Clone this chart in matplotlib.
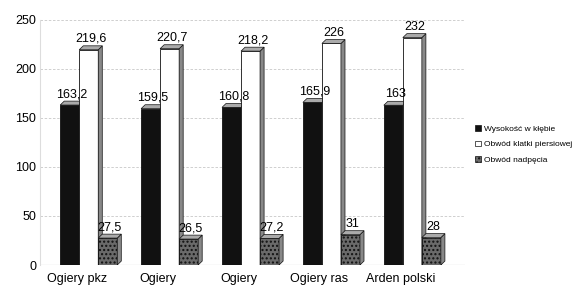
import matplotlib
matplotlib.use('Agg')
import matplotlib.pyplot as plt
from matplotlib.patches import Polygon, Patch
import numpy as np

plt.rcParams['font.family'] = ['Liberation Sans', 'DejaVu Sans']

categories = ['Ogiery pkz', 'Ogiery', 'Ogiery', 'Ogiery ras', 'Arden polski']
series_names = ['Wysokość w kłębie', 'Obwód klatki piersiowej', 'Obwód nadpęcia']
wysokosc = [163.2, 159.5, 160.8, 165.9, 163]
klatka = [219.6, 220.7, 218.2, 226, 232]
nadpecie = [27.5, 26.5, 27.2, 31, 28]

faces = ['#111111', '#ffffff', '#6a6a6a']
hatches = [None, None, '....']

fig = plt.figure(figsize=(5.74, 2.89), dpi=100)
ax = fig.add_axes([0.07, 0.083, 0.74, 0.848])

x = np.arange(len(categories))
w = 0.235
dx, dy = 0.05, 4.0

for i, vals in enumerate([wysokosc, klatka, nadpecie]):
    xs = x + (i - 1) * w
    ax.bar(xs, vals, width=w, color=faces[i], edgecolor='#111111', linewidth=0.6,
           hatch=hatches[i], zorder=3)
    for xc, v in zip(xs, vals):
        x0, x1 = xc - w / 2, xc + w / 2
        side = Polygon([(x1, 0), (x1 + dx, dy), (x1 + dx, v + dy), (x1, v)],
                       closed=True, facecolor='#888888', edgecolor='#111111', lw=0.5, zorder=3)
        top = Polygon([(x0, v), (x0 + dx, v + dy), (x1 + dx, v + dy), (x1, v)],
                      closed=True, facecolor='#aaaaaa', edgecolor='#111111', lw=0.5, zorder=3)
        ax.add_patch(side)
        ax.add_patch(top)
        lab = ('%g' % v).replace('.', ',')
        ax.text(xc + dx / 2, v + dy + 1, lab, ha='center', va='bottom', fontsize=9, zorder=4)

ax.set_xlim(-0.6, 4.65)
ax.set_ylim(0, 250)
ax.set_yticks(range(0, 251, 50))
ax.set_xticks(x - 0.15)
ax.set_xticklabels(categories, fontsize=9)
ax.tick_params(axis='y', labelsize=9, length=0, pad=3)
ax.tick_params(axis='x', length=0, pad=6)
ax.yaxis.grid(True, color='#c8c8c8', linestyle=(0, (3, 2)), linewidth=0.6, zorder=0)
for s in ['top', 'right', 'bottom']:
    ax.spines[s].set_visible(False)
ax.spines['left'].set_color('#dddddd')
ax.plot([-0.6, 4.65], [0, 0], color='#999999', lw=0.8, zorder=2)

handles = [Patch(facecolor=faces[i], edgecolor='#111111', hatch=hatches[i], lw=0.5)
           for i in range(3)]
fig.legend(handles, series_names, loc='center left', bbox_to_anchor=(0.815, 0.5),
           frameon=False, fontsize=6, handlelength=0.7, handleheight=0.7,
           handletextpad=0.3, labelspacing=0.9)

fig.savefig('out.png', dpi=100)
